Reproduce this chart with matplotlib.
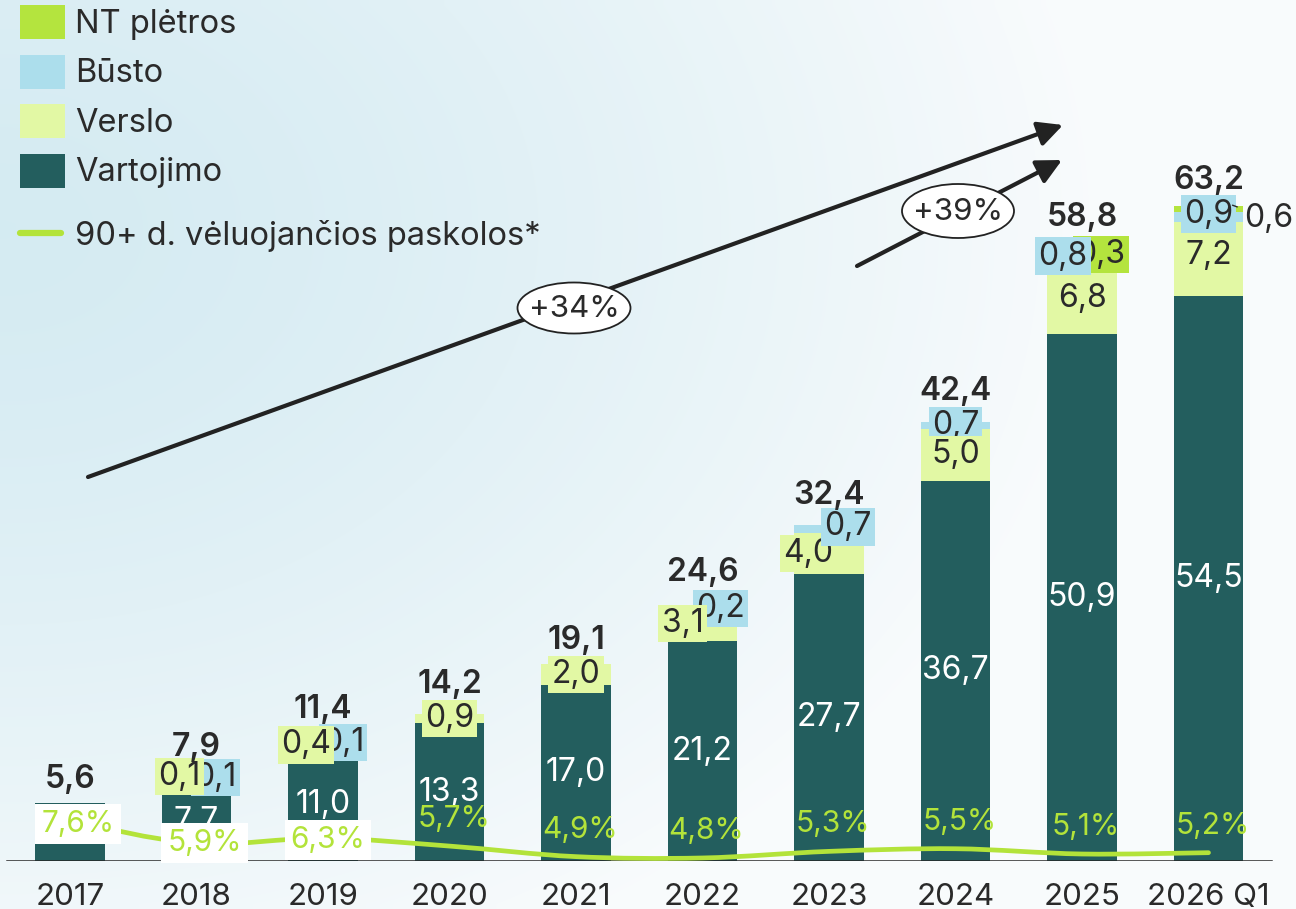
import numpy as np
import matplotlib
matplotlib.use("Agg")
import matplotlib.pyplot as plt
from matplotlib.patches import Rectangle, Ellipse, PathPatch
from matplotlib.path import Path

plt.rcParams["font.family"] = ["Inter", "DejaVu Sans"]

# data
years = ["2017", "2018", "2019", "2020", "2021", "2022", "2023", "2024", "2025", "2026 Q1"]
vartojimo = [5.6, 7.7, 11.0, 13.3, 17.0, 21.2, 27.7, 36.7, 50.9, 54.5]
verslo = [0.0, 0.1, 0.4, 0.9, 2.0, 3.1, 4.0, 5.0, 6.8, 7.2]
busto = [0.0, 0.1, 0.1, 0.0, 0.0, 0.2, 0.7, 0.7, 0.8, 0.9]
nt_pletros = [0.0, 0.0, 0.0, 0.0, 0.0, 0.0, 0.0, 0.0, 0.3, 0.6]
totals = [5.6, 7.9, 11.4, 14.2, 19.1, 24.6, 32.4, 42.4, 58.8, 63.2]
overdue = [7.6, 5.9, 6.3, 5.7, 4.9, 4.8, 5.3, 5.5, 5.1, 5.2]
growth_labels = ["+34%", "+39%"]

# label nudges in pixels (layout only)
vers_dx = [0, -17, -17, 0, 0, -20, -21, 0, 0, 0]
vers_dy = [0, 4, 0, 0, 0, 2, 0, 0, 0, 4]
bust_dx = [0, 19, 20, 0, 0, 18, 19, 0, -19, 0]
bust_dy = [0, 2, 0, 0, 0, 0, 2, 0, 3, 3]
bust_z = [6, 6, 6, 6, 6, 6, 8, 6, 6, 6]
total_lift = [23, 32, 33, 29, 23, 34, 30, 30, 34, 26]
pct_boxed = 3

VART = "#235e5e"
VERS = "#e2f8a4"
BUST = "#acdeec"
NT = "#b4e43e"
LINE = "#b3e33a"
TXT = "#2a2a2a"
FS = 23

W, H = 1296, 909
fig = plt.figure(figsize=(W / 100, H / 100), dpi=100)

# background gradient
bg = fig.add_axes([0, 0, 1, 1], zorder=-5)
gx, gy = np.meshgrid(np.linspace(0, 1, 130), np.linspace(0, 1, 91))
t = np.clip(np.sqrt((gx / 0.85) ** 2 + ((gy - 0.25) / 0.9) ** 2), 0, 1) ** 1.4
c0 = np.array([0.835, 0.922, 0.950])
c1 = np.array([0.975, 0.985, 0.990])
img = c0 + (c1 - c0) * t[..., None]
bg.imshow(img, extent=[0, 1, 0, 1], aspect="auto", interpolation="bilinear", origin="upper")
bg.axis("off")

n = len(years)
x = np.arange(n)
ax = fig.add_axes([0, 48 / H, 1, 861 / H])
ax.patch.set_visible(False)
ax.set_xlim(-70 / 126.5, (W - 70) / 126.5)
ax.set_ylim(0, 861 / 10.36)
for s in ax.spines.values():
    s.set_visible(False)
ax.set_yticks([])
ax.set_xticks(x)
ax.set_xticklabels(years, fontsize=22.5, color=TXT)
ax.tick_params(axis="x", length=0, pad=16)
ax.axhline(0, xmin=7 / W, xmax=1271 / W, color="#262626", lw=1.8, zorder=4)

bw = 0.553
b1 = np.array(vartojimo)
b2 = b1 + np.array(verslo)
b3 = b2 + np.array(busto)
ax.bar(x, vartojimo, bw, color=VART, zorder=2)
ax.bar(x, verslo, bw, bottom=b1, color=VERS, zorder=2)
ax.bar(x, busto, bw, bottom=b2, color=BUST, zorder=2)
ax.bar(x, nt_pletros, bw, bottom=b3, color=NT, zorder=2)


def fmt(v):
    return f"{v:.1f}".replace(".", ",")


def box(c):
    return dict(boxstyle="square,pad=0.1", fc=c, ec="none")


# vartojimo labels (2017 is covered by the percentage box)
for i in range(1, n):
    ax.text(i, vartojimo[i] / 2, fmt(vartojimo[i]), ha="center", va="center",
            fontsize=FS, color="white", zorder=3)

for i in range(n):
    if verslo[i] > 0:
        ax.annotate(fmt(verslo[i]), (i, b1[i] + verslo[i] / 2), xytext=(vers_dx[i], vers_dy[i]),
                    textcoords="offset pixels", ha="center", va="center", fontsize=FS,
                    color=TXT, bbox=box(VERS), zorder=7)
    if busto[i] > 0:
        ax.annotate(fmt(busto[i]), (i, b2[i] + busto[i] / 2), xytext=(bust_dx[i], bust_dy[i]),
                    textcoords="offset pixels", ha="center", va="center", fontsize=FS,
                    color=TXT, bbox=box(BUST), zorder=bust_z[i])
    ax.annotate(fmt(totals[i]), (i, totals[i]), xytext=(0, total_lift[i]),
                textcoords="offset pixels", ha="center", va="center", fontsize=FS,
                color=TXT, fontweight="semibold", zorder=9)

# NT pletros labels
ax.annotate(fmt(nt_pletros[8]), (8, b3[8] + nt_pletros[8] / 2), xytext=(19, -1),
            textcoords="offset pixels", ha="center", va="center", fontsize=FS,
            color=TXT, bbox=box(NT), zorder=5)
top9 = b3[9] + nt_pletros[9]
ax.annotate(fmt(nt_pletros[9]), (9 + 0.19, top9 + 0.1), xytext=(36, -13),
            textcoords="offset pixels", ha="center", va="center", fontsize=FS,
            color=TXT, zorder=9,
            arrowprops=dict(arrowstyle="-", color=TXT, lw=1, shrinkA=3, shrinkB=0))

# overdue line on its own scale
ax2 = ax.twinx()
ax2.set_ylim(4.57, 4.57 + 861 / 13.2)
ax2.axis("off")
pts = np.column_stack([x, overdue]).astype(float)
verts = [pts[0]]
codes = [Path.MOVETO]
for i in range(n - 1):
    p0 = pts[i - 1] if i > 0 else pts[i]
    p1, p2 = pts[i], pts[i + 1]
    p3 = pts[i + 2] if i + 2 < n else p2
    verts += [p1 + (p2 - p0) / 6, p2 - (p3 - p1) / 6, p2]
    codes += [Path.CURVE4] * 3
ax2.add_patch(PathPatch(Path(verts, codes), fc="none", ec=LINE, lw=3.4,
                        capstyle="round", zorder=3))
for i in range(n):
    lab = fmt(overdue[i]) + "%"
    if i < pct_boxed:
        dx, dy = [(8, -3), (8, 0), (5, -2)][i]
        ax2.annotate(lab, (i, overdue[i]), xytext=(dx, dy), textcoords="offset pixels",
                     ha="center", va="center", fontsize=21.5, color=LINE, zorder=6,
                     bbox=dict(boxstyle="square,pad=0.2", fc="white", ec="none"))
    else:
        ax2.annotate(lab, (i, overdue[i]), xytext=(4, 27), textcoords="offset pixels",
                     ha="center", va="center", fontsize=21.5, color=LINE, zorder=6)

# overlay in pixel coordinates: legend, growth arrows
ov = fig.add_axes([0, 0, 1, 1], zorder=5)
ov.set_xlim(0, W)
ov.set_ylim(H, 0)
ov.axis("off")
ov.patch.set_visible(False)

legend_items = [("NT plėtros", NT), ("Būsto", BUST), ("Verslo", VERS), ("Vartojimo", VART)]
for k, (name, col) in enumerate(legend_items):
    y0 = 5 + k * 49.5
    ov.add_patch(Rectangle((20, y0), 45, 34, fc=col, ec="none"))
    ov.text(75, y0 + 19, name, fontsize=23.5, color=TXT, va="center", ha="left")
ov.plot([20, 61], [233, 233], color=LINE, lw=4.5, solid_capstyle="round")
ov.text(75, 236, "90+ d. vėluojančios paskolos*", fontsize=23.5, color=TXT, va="center", ha="left")

arrow_kw = dict(arrowstyle="-|>,head_length=0.6,head_width=0.3", lw=3, color="#222222",
                mutation_scale=25, shrinkA=0, shrinkB=0)
ov.annotate("", xy=(1063, 125), xytext=(88, 477), arrowprops=arrow_kw)
ov.annotate("", xy=(1062, 160), xytext=(857, 266), arrowprops=arrow_kw)
for (cx, cy, ew, eh), lab in zip([(574, 308, 113, 51), (958, 211, 112, 54)], growth_labels):
    ov.add_patch(Ellipse((cx, cy), ew, eh, fc="white", ec="#222222", lw=1.3, zorder=3))
    ov.text(cx, cy + 1, lab, fontsize=22.5, color=TXT, ha="center", va="center", zorder=4)

fig.savefig("out.png", dpi=100)
